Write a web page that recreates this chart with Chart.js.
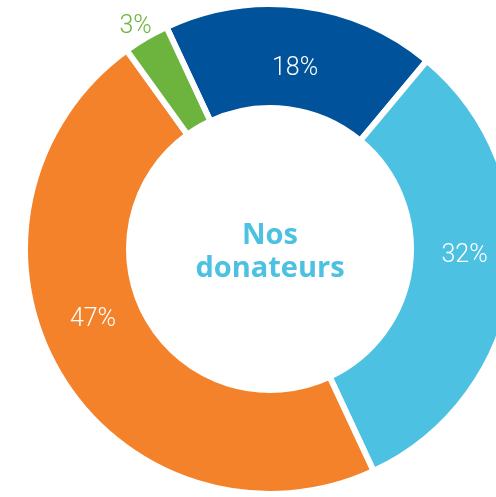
<!DOCTYPE html>
<html>
<head>
<meta charset="utf-8">
<script src="https://cdn.jsdelivr.net/npm/chart.js@4"></script>
<style>
html,body{margin:0;padding:0;background:#fff;overflow:hidden;width:496px;height:497px;}
#wrap{position:absolute;left:0;top:0;width:540px;height:498px;}
</style>
</head>
<body>
<div id="wrap"><canvas id="c" width="540" height="498"></canvas></div>
<script>
const categories = ['Donateurs A', 'Donateurs B', 'Donateurs C', 'Donateurs D'];
const values = [18, 32, 47, 3];
const valueLabels = ['18%', '32%', '47%', '3%'];
const colors = ['#00529B', '#4CC1E2', '#F4822B', '#6DB43F'];
const centerTitle = ['Nos', 'donateurs'];

// label placement: angle (deg, clockwise from top) and radius from the doughnut centre
const labelPlacement = [
  {angle: 7.8, r: 184.7, color: '#ffffff'},
  {angle: 91.3, r: 194.6, color: '#ffffff'},
  {angle: 249.0, r: 189.6, color: '#ffffff'},
  {angle: -30.9, r: 261.7, color: '#6DB43F'}
];

const labelPlugin = {
  id: 'labels',
  afterDraw(chart) {
    const ctx = chart.ctx;
    const meta = chart.getDatasetMeta(0);
    const arc = meta.data[0];
    const cx = arc.x, cy = arc.y;
    ctx.save();
    const fs = 25;
    ctx.font = '300 ' + fs + 'px Roboto, "Liberation Sans", sans-serif';
    ctx.textAlign = 'center';
    ctx.textBaseline = 'alphabetic';
    valueLabels.forEach((t, i) => {
      const p = labelPlacement[i];
      const a = p.angle * Math.PI / 180;
      const x = cx + p.r * Math.sin(a);
      const y = cy - p.r * Math.cos(a);
      ctx.fillStyle = p.color;
      ctx.fillText(t, x, y + fs * 0.711 / 2);
    });
    ctx.font = 'bold 29px "Open Sans", Lato, sans-serif';
    ctx.fillStyle = '#4CC1E2';
    ctx.fillText(centerTitle[0], cx, cy - 5);
    ctx.fillText(centerTitle[1], cx, cy + 28);
    ctx.restore();
  }
};

new Chart(document.getElementById('c'), {
  type: 'doughnut',
  data: {
    labels: categories,
    datasets: [{
      data: values,
      backgroundColor: colors,
      borderColor: '#ffffff',
      borderWidth: 6,
      borderJoinStyle: 'miter',
      radius: 245,
      cutout: '57.55%'
    }]
  },
  options: {
    responsive: false,
    animation: false,
    rotation: -25,
    layout: {padding: 0},
    plugins: {
      legend: {display: false},
      tooltip: {enabled: false}
    }
  },
  plugins: [labelPlugin]
});
</script>
</body>
</html>
